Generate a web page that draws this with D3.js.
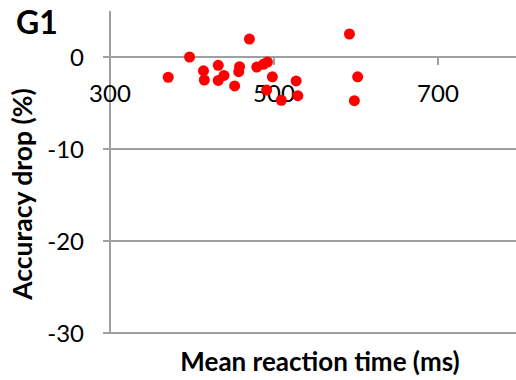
<!DOCTYPE html>
<meta charset="utf-8">
<style>
body { margin: 0; background: #fff; }
text { font-family: Lato, "Open Sans", sans-serif; fill: #000; }
.grid line, .axis line, .axis path { stroke: #a0a0a0; stroke-width: 1.3px; shape-rendering: crispEdges; }
.dot { fill: #ff0000; }
</style>
<svg width="516" height="380"></svg>
<script src="https://d3js.org/d3.v7.min.js"></script>
<script>

// mean reaction time (ms) and accuracy drop (%) per participant
var rt   = [371, 397, 414, 415, 432, 432, 439, 452, 458, 457, 470, 479, 487, 492, 498, 491, 509, 527, 529, 592, 602, 598];
var drop = [-2.2, 0, -1.5, -2.5, -0.9, -2.55, -2.0, -3.15, -1.05, -1.6, 1.95, -1.1, -0.8, -0.55, -2.15, -3.6, -4.7, -2.6, -4.2, 2.5, -2.15, -4.75];
var xTicks = [300, 500, 700];
var yTicks = [0, -10, -20, -30];

var svg = d3.select("svg");

var x = d3.scaleLinear().domain([300, 800]).range([110, 520]);
var y = d3.scaleLinear().domain([-30, 5]).range([333, 11]);

// horizontal gridlines (0 line doubles as x axis)
svg.append("g")
    .attr("class", "grid")
  .selectAll("line")
  .data(yTicks)
  .enter().append("line")
    .attr("x1", x(300) - 7)
    .attr("x2", x(800))
    .attr("y1", function(d) { return y(d); })
    .attr("y2", function(d) { return y(d); });

// y axis line
svg.append("g")
    .attr("class", "axis")
  .append("line")
    .attr("x1", x(300)).attr("x2", x(300))
    .attr("y1", y(5)).attr("y2", y(-30));

svg.append("g")
    .selectAll("text")
    .data(yTicks)
  .enter().append("text")
    .attr("x", 84)
    .attr("y", function(d) { return y(d); })
    .attr("dy", "0.36em")
    .attr("text-anchor", "end")
    .style("font-size", "24px")
    .text(function(d) { return d; });

// x ticks, hanging below the zero line
var xa = svg.append("g").attr("class", "axis");
xa.selectAll("line")
    .data(xTicks.slice(1))
  .enter().append("line")
    .attr("x1", function(d) { return x(d); })
    .attr("x2", function(d) { return x(d); })
    .attr("y1", y(0))
    .attr("y2", y(0) + 8);

svg.append("g")
    .selectAll("text")
    .data(xTicks)
  .enter().append("text")
    .attr("x", function(d) { return x(d); })
    .attr("y", 102)
    .attr("text-anchor", "middle")
    .style("font-size", "24px")
    .text(function(d) { return d; });

// points
svg.append("g")
    .selectAll("circle")
    .data(rt)
  .enter().append("circle")
    .attr("class", "dot")
    .attr("cx", function(d) { return x(d); })
    .attr("cy", function(d, i) { return y(drop[i]); })
    .attr("r", 5.5);

svg.append("text")
    .attr("x", 16)
    .attr("y", 34)
    .style("font-size", "32px")
    .style("font-weight", "bold")
    .text("G1");

svg.append("text")
    .attr("transform", "translate(32,194) rotate(-90)")
    .attr("text-anchor", "middle")
    .style("font-size", "26.5px")
    .style("font-weight", "bold")
    .text("Accuracy drop (%)");

svg.append("text")
    .attr("x", 320)
    .attr("y", 371)
    .attr("text-anchor", "middle")
    .style("font-size", "26px")
    .style("font-weight", "bold")
    .text("Mean reaction time (ms)");

</script>
